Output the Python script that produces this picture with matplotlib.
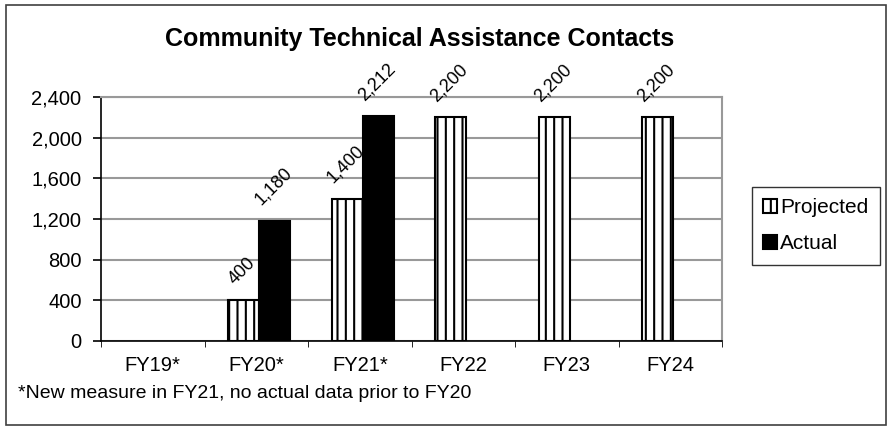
import numpy as np
import matplotlib.pyplot as plt
from matplotlib.patches import Rectangle

plt.rcParams["font.family"] = ["Liberation Sans", "DejaVu Sans"]
plt.rcParams["hatch.linewidth"] = 1.5

categories = ["FY19*", "FY20*", "FY21*", "FY22", "FY23", "FY24"]
projected = [np.nan, 400, 1400, 2200, 2200, 2200]
actual = [np.nan, 1180, 2212, np.nan, np.nan, np.nan]
y_ticks = [0, 400, 800, 1200, 1600, 2000, 2400]

fig = plt.figure(figsize=(8.93, 4.32), dpi=100)
ax = fig.add_axes([101 / 893, 1 - 341 / 432, 621 / 893, 244 / 432])

# outer chart border
fig.patches.append(Rectangle((6 / 893, 7 / 432), 880 / 893, 420 / 432,
                             transform=fig.transFigure, fill=False,
                             edgecolor="#404040", linewidth=1.2))

x = np.arange(len(categories))
width = 0.3

bars_proj = ax.bar(x - width / 2 + 0.03, projected, width, color="white",
                   edgecolor="black", hatch="||", linewidth=1.5,
                   label="Projected", zorder=3)
bars_act = ax.bar(x + width / 2 + 0.03, actual, width, color="black",
                  edgecolor="black", linewidth=1.5, label="Actual", zorder=3)

# rotated value labels above the bars
for bars, values in [(bars_proj, projected), (bars_act, actual)]:
    for bar, value in zip(bars, values):
        if np.isnan(value):
            continue
        ax.annotate(f"{value:,.0f}",
                    (bar.get_x() + bar.get_width() / 2, value),
                    xytext=(-1, 9), textcoords="offset points",
                    rotation=45, ha="center", va="bottom", fontsize=13,
                    annotation_clip=False)

ax.set_xlim(-0.5, len(categories) - 0.5)
ax.set_ylim(0, 2400)
ax.set_yticks(y_ticks)
ax.set_yticklabels([f"{t:,}" for t in y_ticks], fontsize=14.5)
ax.set_xticks(x)
ax.set_xticklabels(categories, fontsize=14.5)
ax.set_xticks(np.arange(len(categories) + 1) - 0.5, minor=True)
ax.tick_params(axis="x", which="major", length=0, pad=11)
ax.tick_params(axis="x", which="minor", length=4, direction="out", color="black")
ax.tick_params(axis="y", length=6, width=1.2, direction="out", color="black",
               pad=8)

ax.grid(axis="y", color="#999999", linewidth=1.5, zorder=0)
ax.set_axisbelow(True)
for side in ["top", "right"]:
    ax.spines[side].set_color("#999999")
    ax.spines[side].set_linewidth(1.5)
for side in ["left", "bottom"]:
    ax.spines[side].set_color("black")
    ax.spines[side].set_linewidth(1.2)

fig.text(420 / 893, 1 - 39 / 432, "Community Technical Assistance Contacts",
         ha="center", va="center", fontsize=18, fontweight="bold")
fig.text(18 / 893, 1 - 393 / 432,
         "*New measure in FY21, no actual data prior to FY20",
         ha="left", va="center", fontsize=14)

leg = ax.legend(loc="upper left", bbox_to_anchor=(752 / 893, 1 - 187 / 432),
                bbox_transform=fig.transFigure, borderaxespad=0,
                fontsize=15, frameon=True, fancybox=False,
                handlelength=0.65, handleheight=0.65, handletextpad=0.15,
                labelspacing=0.8, borderpad=0.55)
leg.get_frame().set_edgecolor("black")
leg.get_frame().set_linewidth(1.0)

fig.savefig("out.png", dpi=100)
